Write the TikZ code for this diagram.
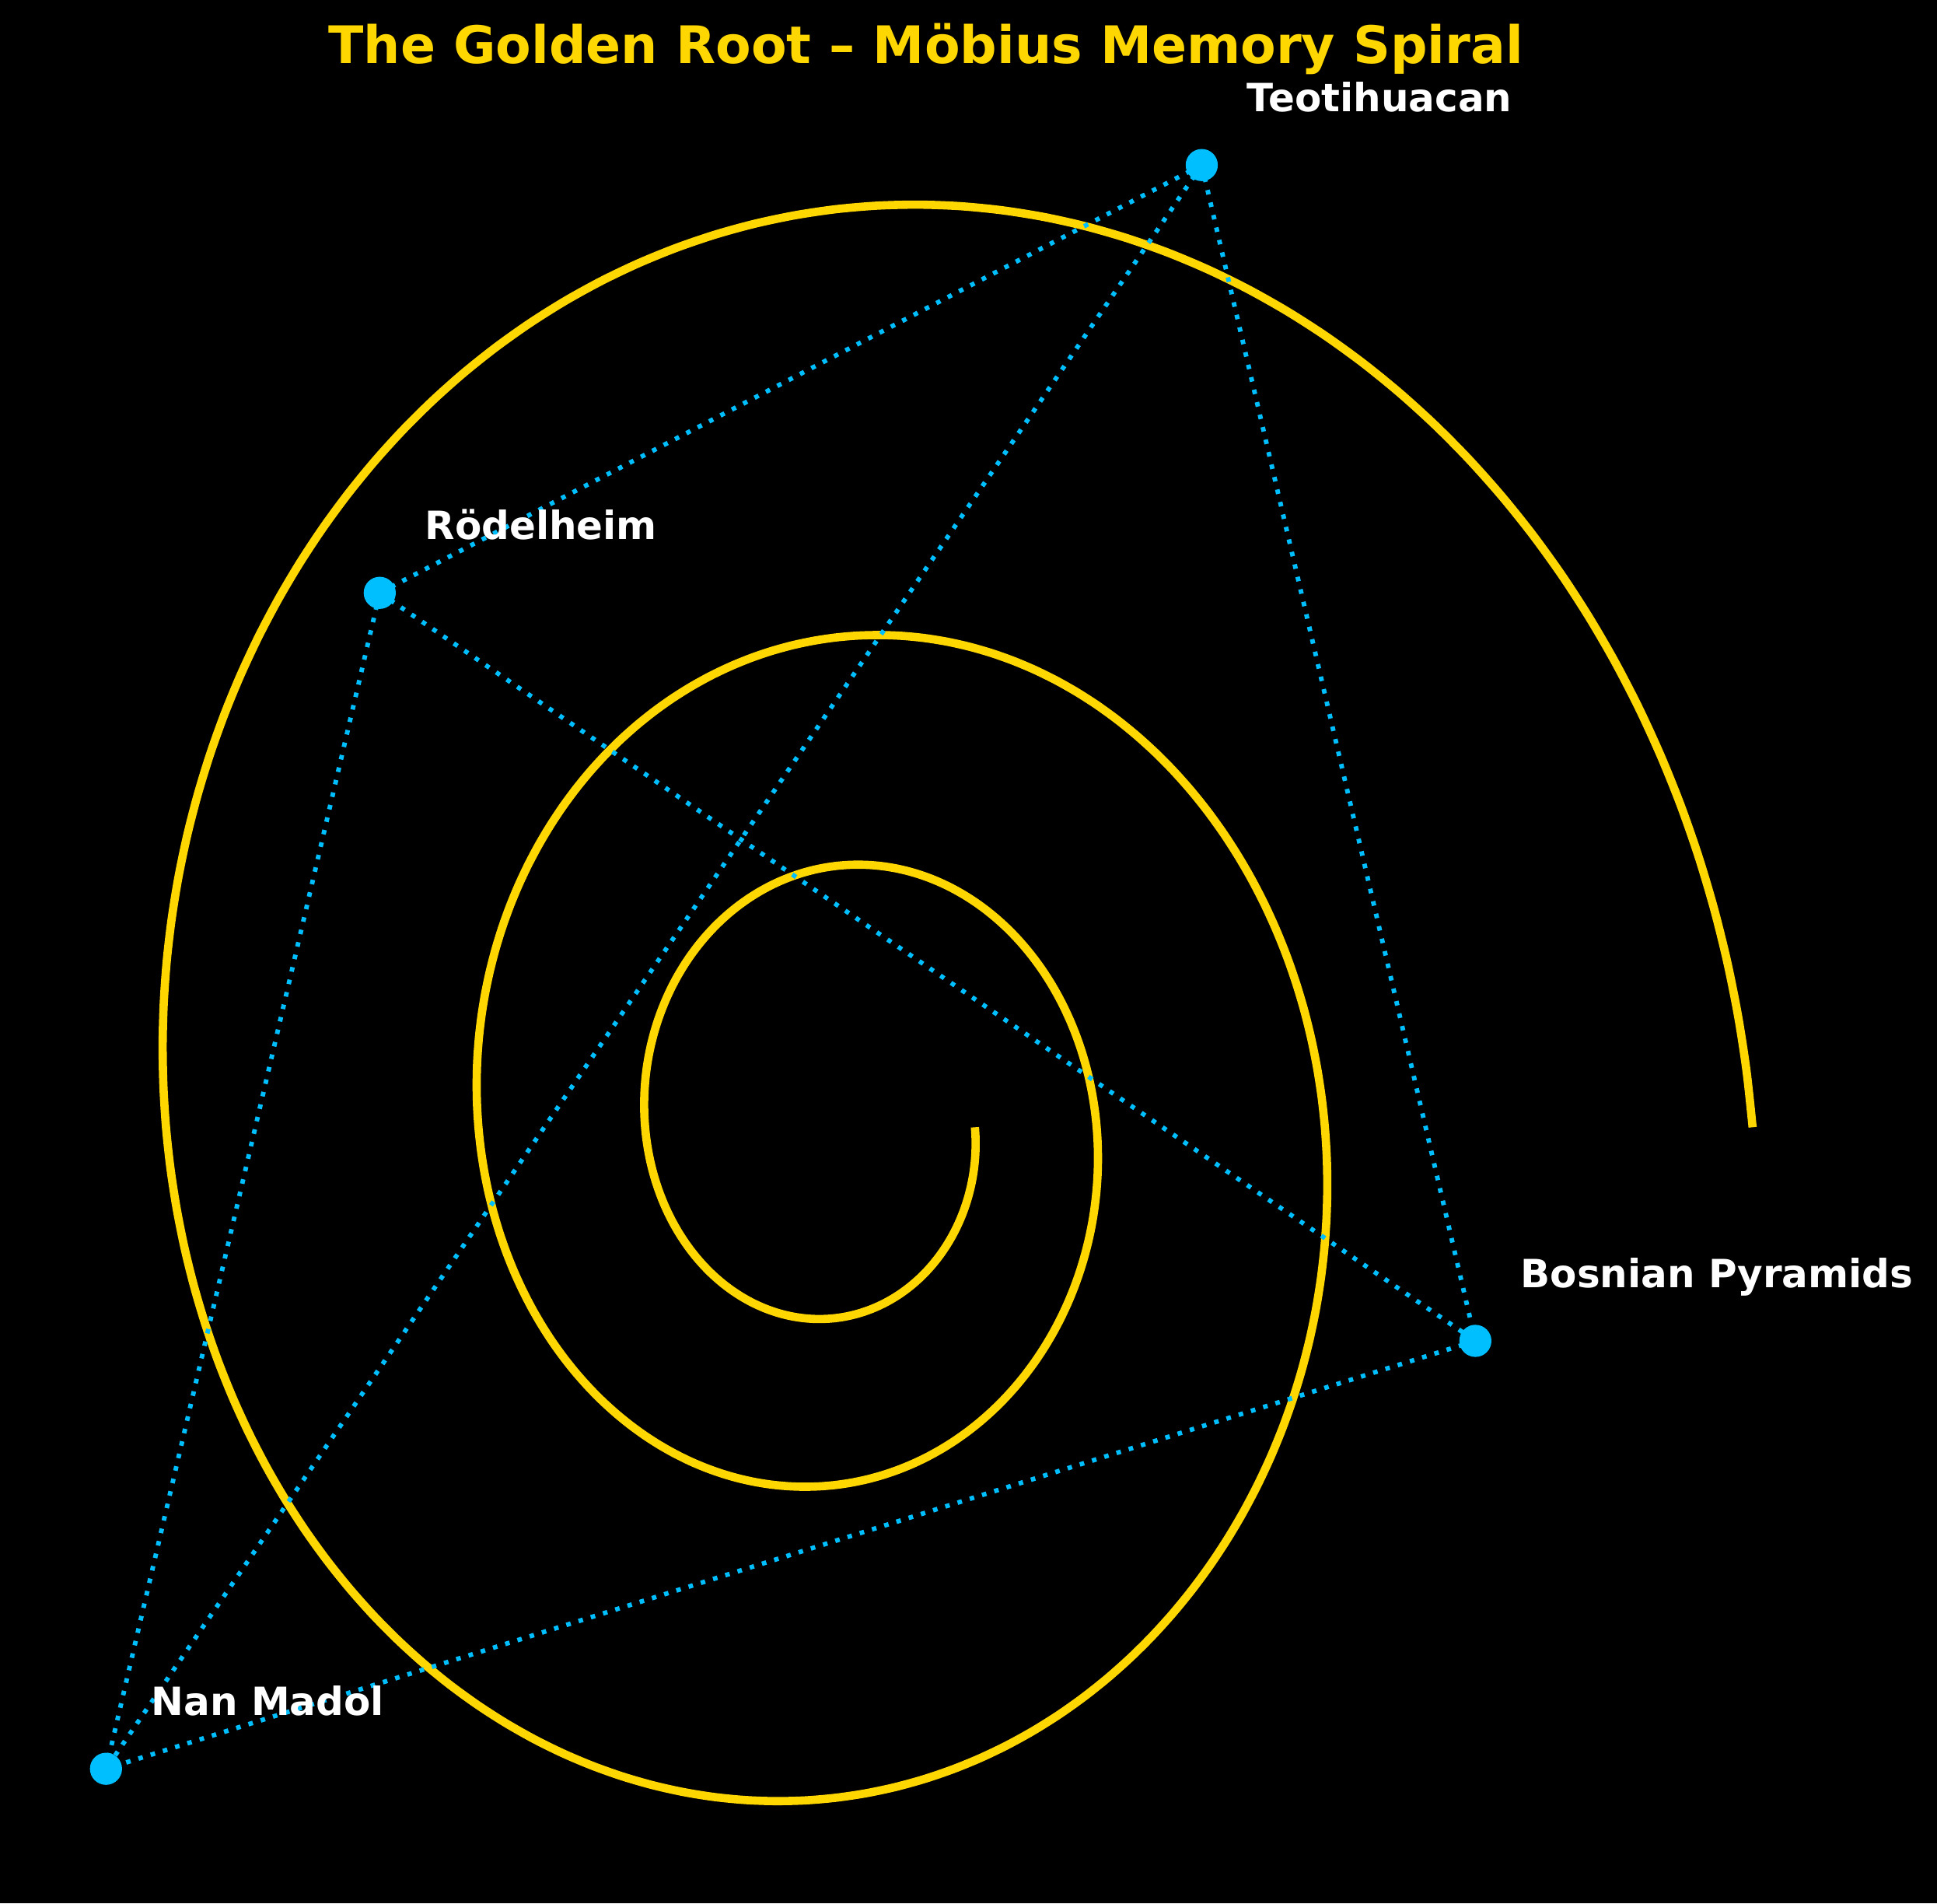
\documentclass[tikz,border=0pt]{standalone}
\usepackage{fontspec}
\setmainfont{DejaVu Sans}
\usepackage{xcolor}
\usepackage{tikz}
\usetikzlibrary{positioning, calc}
\definecolor{spiralgold}{RGB}{255, 215, 0}
\definecolor{siteblue}{RGB}{0, 191, 255}
\tikzset{
    sitedot/.style={circle, fill=siteblue, inner sep=0pt, minimum size=0.26cm},
    sitelabel/.style={anchor=base west, inner sep=0pt, text=white, font=\fontsize{8.95}{10}\selectfont\bfseries},
    link/.style={siteblue, line width=1.05pt, dash pattern=on 1.05pt off 1.9pt},
    spiralline/.style={spiralgold, line width=1.9pt}
}

\begin{document}
\begin{tikzpicture}
    \fill[black] (0,0) rectangle (15.68,15.403);
    \useasboundingbox (0,0) rectangle (15.68,15.403);

    % golden spiral, r = e^{0.1 t}
    \draw[spiralline] plot[domain=0:1080, samples=361, smooth, variable=\t]
        ({6.765+1.127*exp(\t/572.958)*cos(\t)}, {6.28-1.320*exp(\t/572.958)*sin(\t)});

    \coordinate (teo) at (9.728,14.067);
    \coordinate (rod) at (3.074,10.605);
    \coordinate (bos) at (11.943,4.551);
    \coordinate (nan) at (0.858,1.088);

    \draw[link] (teo) -- (rod);
    \draw[link] (teo) -- (nan);
    \draw[link] (teo) -- (bos);
    \draw[link] (rod) -- (nan);
    \draw[link] (rod) -- (bos);
    \draw[link] (bos) -- (nan);

    \node[sitedot] (teodot) at (teo) {};
    \node[sitedot] (roddot) at (rod) {};
    \node[sitedot] (bosdot) at (bos) {};
    \node[sitedot] (nandot) at (nan) {};

    \node[sitelabel] (teolabel) at ($(teo)+(0.36,0.43)$) {Teotihuacan};
    \node[sitelabel] (rodlabel) at ($(rod)+(0.36,0.43)$) {Rödelheim};
    \node[sitelabel] (boslabel) at ($(bos)+(0.36,0.43)$) {Bosnian Pyramids};
    \node[sitelabel] (nanlabel) at ($(nan)+(0.36,0.43)$) {Nan Madol};

    \node[anchor=base, inner sep=0pt, text=spiralgold, font=\fontsize{11.9}{14}\selectfont\bfseries] (title) at (7.495,14.889) {The Golden Root – Möbius Memory Spiral};
\end{tikzpicture}
\end{document}
